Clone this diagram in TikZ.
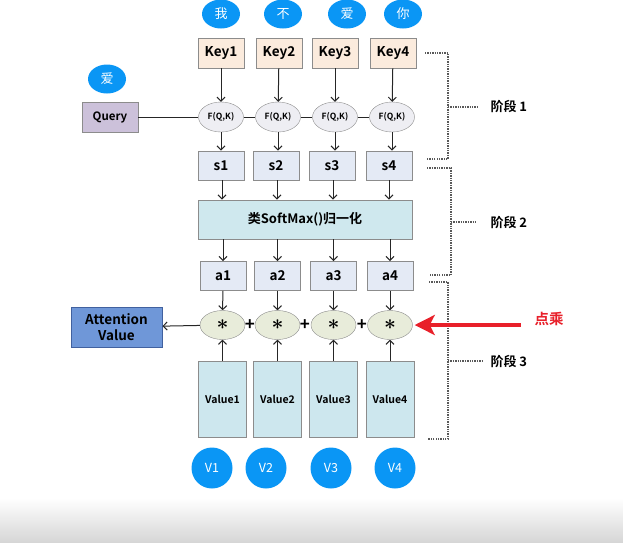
\documentclass[tikz,border=0pt]{standalone}
\usepackage{fontspec}
\setmainfont{Noto Sans CJK SC}[BoldFont={* Bold}]
\usetikzlibrary{arrows.meta,shapes.geometric}
\definecolor{keyfill}{HTML}{FBEBDD}
\definecolor{queryfill}{HTML}{CCC1DA}
\definecolor{fqfill}{HTML}{EEEEF3}
\definecolor{scorefill}{HTML}{E4EAF5}
\definecolor{smfill}{HTML}{CFE8EE}
\definecolor{starfill}{HTML}{E8ECDA}
\definecolor{valfill}{HTML}{CDE7EE}
\definecolor{attfill}{HTML}{6F97D8}
\definecolor{attline}{HTML}{41619F}
\definecolor{dotblue}{HTML}{0A96F5}
\definecolor{dotred}{HTML}{E8202A}
\tikzset{
  % Stile base per i riquadri
  base box/.style={draw=black!45, line width=0.9pt, font=\bfseries, inner sep=0pt},
  key box/.style={base box, fill=keyfill, minimum width=46, minimum height=30, font=\bfseries\fontsize{13.5}{15}\selectfont},
  query box/.style={base box, fill=queryfill, minimum width=56, minimum height=30, font=\bfseries\fontsize{11.5}{13}\selectfont},
  score box/.style={base box, fill=scorefill, minimum width=46, minimum height=29, font=\bfseries\fontsize{13.5}{15}\selectfont},
  value box/.style={base box, fill=valfill, minimum width=48, minimum height=76, font=\bfseries\fontsize{10.5}{12}\selectfont},
  % Ellissi
  fq ell/.style={ellipse, draw=black!45, fill=fqfill, minimum width=45, minimum height=30, inner sep=0pt, font=\bfseries\fontsize{8.5}{9}\selectfont},
  star ell/.style={ellipse, draw=black!45, fill=starfill, minimum width=45, minimum height=29, inner sep=0pt, font=\fontsize{20}{20}\selectfont\boldmath},
  % Pallini blu con le parole
  word dot/.style={ellipse, fill=dotblue, text=white, minimum width=38, minimum height=29, inner sep=0pt, font=\fontsize{13}{14}\selectfont},
  v dot/.style={circle, fill=dotblue, text=white, minimum size=41, inner sep=0pt, font=\fontsize{12.5}{14}\selectfont},
  plus sign/.style={inner sep=0pt, font=\bfseries\fontsize{17}{17}\selectfont},
  stage line/.style={black!65, line width=1.2pt, dash pattern=on 1.3pt off 1.1pt},
  stage label/.style={anchor=west, font=\bfseries\fontsize{13}{15}\selectfont},
  red arrow/.style={dotred, line width=4.5pt, -{Stealth[length=20pt, width=20pt, inset=5pt]}},
  conn/.style={line width=1pt, black!85},
  >={Straight Barb[length=4pt, width=8pt]}
}

\begin{document}
\begin{tikzpicture}[x=1pt, y=-1pt]
  \useasboundingbox (0,0) rectangle (623,542);
  \shade[top color=white, bottom color=black!16] (0,498) rectangle (623,542);

  % Parole in cima
  \node[word dot] (w1) at (221,14) {我};
  \node[word dot] (w2) at (283,14) {不};
  \node[word dot] (w3) at (347,14) {爱};
  \node[word dot] (w4) at (403,14) {你};

  % Chiavi
  \node[key box] (k1) at (221,53) {Key1};
  \node[key box] (k2) at (279,53) {Key2};
  \node[key box] (k3) at (335,53) {Key3};
  \node[key box] (k4) at (393,53) {Key4};

  % Query
  \node[word dot] (wq) at (107,79) {爱};
  \node[query box] (q) at (110,117) {Query};

  \node[fq ell] (f1) at (221,117) {F(Q,K)};
  \node[fq ell] (f2) at (278,117) {F(Q,K)};
  \node[fq ell] (f3) at (335,117) {F(Q,K)};
  \node[fq ell] (f4) at (392,117) {F(Q,K)};

  \draw[conn] (q) -- (f1) (f1) -- (f2) (f2) -- (f3) (f3) -- (f4);
  \draw[conn, ->] (k1) -- (f1);
  \draw[conn, ->] (k2) -- (f2);
  \draw[conn, ->] (k3) -- (f3);
  \draw[conn, ->] (k4) -- (f4);

  % Punteggi
  \node[score box] (s1) at (221,165.5) {s1};
  \node[score box] (s2) at (276,165.5) {s2};
  \node[score box] (s3) at (332,165.5) {s3};
  \node[score box] (s4) at (389,165.5) {s4};

  \draw[conn, ->] (f1) -- (f1 |- s1.north);
  \draw[conn, ->] (f2) -- (f2 |- s2.north);
  \draw[conn, ->] (f3) -- (f3 |- s3.north);
  \draw[conn, ->] (f4) -- (f4 |- s4.north);

  % Normalizzazione
  \node[base box, fill=smfill, minimum width=214, minimum height=39, font=\bfseries\fontsize{13}{15}\selectfont] (sm) at (305,219.5) {类SoftMax()归一化};

  \draw[conn, ->] ([xshift=1]s1.south) -- ([xshift=1]s1.south |- sm.north);
  \draw[conn, ->] ([xshift=1]s2.south) -- ([xshift=1]s2.south |- sm.north);
  \draw[conn, ->] ([xshift=1]s3.south) -- ([xshift=1]s3.south |- sm.north);
  \draw[conn, ->] (s4.south) -- (s4.south |- sm.north);

  \node[score box] (a1) at (223,276) {a1};
  \node[score box] (a2) at (277.5,276) {a2};
  \node[score box] (a3) at (333.5,276) {a3};
  \node[score box] (a4) at (390,276) {a4};

  \draw[conn, ->] (a1 |- sm.south) -- (a1);
  \draw[conn, ->] (a2 |- sm.south) -- (a2);
  \draw[conn, ->] (a3 |- sm.south) -- (a3);
  \draw[conn, ->] (a4 |- sm.south) -- (a4);

  % Prodotti e somma
  \node[star ell] (st1) at (222.5,325) {$\ast$};
  \node[star ell] (st2) at (277.5,325) {$\ast$};
  \node[star ell] (st3) at (333.5,325) {$\ast$};
  \node[star ell] (st4) at (390,325) {$\ast$};
  \node[plus sign] (p1) at (250,325) {+};
  \node[plus sign] (p2) at (305,325) {+};
  \node[plus sign] (p3) at (362,325) {+};

  \draw[conn, ->] (a1) -- (st1);
  \draw[conn, ->] (a2) -- (st2);
  \draw[conn, ->] (a3) -- (st3);
  \draw[conn, ->] (a4) -- (st4);

  \node[base box, draw=attline, fill=attfill, minimum width=91, minimum height=40, align=center, font=\bfseries\fontsize{13.5}{15.5}\selectfont] (att) at (116.5,327) {Attention\\Value};
  \draw[conn, ->] (st1) -- (att);

  % Valori
  \node[value box] (v1) at (222.5,399) {Value1};
  \node[value box] (v2) at (277.5,399) {Value2};
  \node[value box] (v3) at (333.5,399) {Value3};
  \node[value box] (v4) at (390,399) {Value4};

  \draw[conn, ->] (v1) -- (st1);
  \draw[conn, ->] (v2) -- (st2);
  \draw[conn, ->] (v3) -- (st3);
  \draw[conn, ->] (v4) -- (st4);

  \node[v dot] (d1) at (212,468) {V1};
  \node[v dot] (d2) at (266,468) {V2};
  \node[v dot] (d3) at (331,468) {V3};
  \node[v dot] (d4) at (395,468) {V4};

  % Fasi
  \draw[stage line] (425,53) -- (448,53) -- (448,159) -- (426,159);
  \draw[stage line] (448,107) -- (478,107);
  \node[stage label] (lb1) at (487,107) {阶段 1};

  \draw[stage line] (427,168) -- (451,168) -- (451,275) -- (429,275);
  \draw[stage line] (451,222) -- (476,222);
  \node[stage label] (lb2) at (487,222) {阶段 2};

  \draw[stage line] (429,282) -- (448,282) -- (448,439) -- (428,439);
  \draw[stage line] (448,361) -- (482,361);
  \node[stage label] (lb3) at (487,361) {阶段 3};

  % Freccia rossa
  \node[text=dotred, font=\bfseries\fontsize{14.5}{16}\selectfont] (dc) at (549,319) {点乘};
  \draw[red arrow] ([shift={(-10,6)}]dc.west) -- ([xshift=2pt]st4.east);
\end{tikzpicture}
\end{document}
